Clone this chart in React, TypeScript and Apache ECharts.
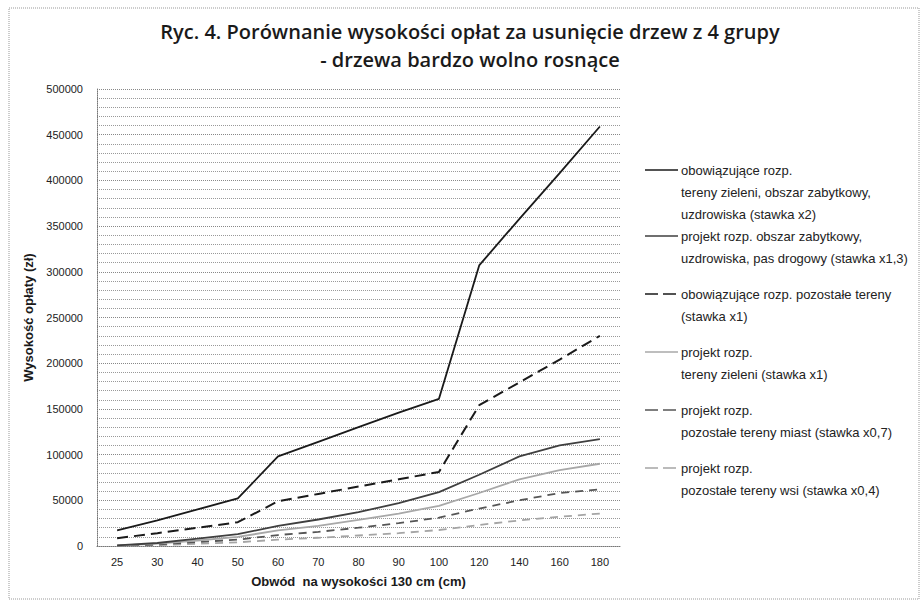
import React, { useEffect, useRef } from "react";
import * as echarts from "echarts";

const categories = ["25", "30", "40", "50", "60", "70", "80", "90", "100", "120", "140", "160", "180"];

const seriesNames = [
  "obowiązujące rozp.\ntereny zieleni, obszar zabytkowy,\nuzdrowiska (stawka x2)",
  "projekt rozp. obszar zabytkowy,\nuzdrowiska, pas drogowy (stawka x1,3)",
  "obowiązujące rozp. pozostałe tereny\n(stawka x1)",
  "projekt rozp.\ntereny zieleni (stawka x1)",
  "projekt rozp.\npozostałe tereny miast (stawka x0,7)",
  "projekt rozp.\npozostałe tereny wsi (stawka x0,4)",
];

const obowX2 = [17000, 28000, 40000, 52000, 98000, 114000, 130000, 146000, 161000, 307000, 358000, 408000, 459000];
const projX13 = [600, 3300, 8000, 13000, 22000, 29000, 37000, 47000, 59000, 78000, 98000, 110000, 117000];
const obowX1 = [8500, 14000, 20000, 26000, 49000, 57000, 65000, 73000, 81000, 154000, 179000, 204000, 230000];
const projX1 = [400, 2500, 6000, 10000, 17000, 22000, 28500, 35500, 44000, 58000, 73000, 83000, 90000];
const projX07 = [300, 1800, 4300, 7000, 12000, 15500, 20000, 25000, 31000, 41000, 50000, 58000, 62000];
const projX04 = [150, 1000, 2500, 4000, 7000, 9000, 11500, 14000, 17500, 23000, 28000, 32000, 35500];

const seriesData = [obowX2, projX13, obowX1, projX1, projX07, projX04];

const yTicks = { min: 0, max: 500000, interval: 50000 };

const styles = [
  { color: "#1a1a1a", type: "solid", width: 1.8, legendDash: null },
  { color: "#3f3f3f", type: "solid", width: 1.8, legendDash: null },
  { color: "#1a1a1a", type: [11, 6], width: 2, legendDash: [13, 5] },
  { color: "#a8a8a8", type: "solid", width: 1.8, legendDash: null },
  { color: "#555555", type: [8, 6], width: 1.8, legendDash: [13, 5] },
  { color: "#a5a5a5", type: [8, 6], width: 1.8, legendDash: [13, 5] },
];

const legendY = [170, 236, 294, 352, 410, 468];

export default function App() {
  const ref = useRef<HTMLDivElement>(null);
  useEffect(() => {
    if (!ref.current) return;
    const chart = echarts.init(ref.current, null, { renderer: "svg" });
    const font = "Liberation Sans, Arial, sans-serif";
    const legendGraphics: any[] = [];
    seriesNames.forEach((name, i) => {
      const s = styles[i];
      legendGraphics.push({
        type: "line",
        shape: { x1: 645, y1: legendY[i], x2: 678, y2: legendY[i] },
        style: { stroke: s.color, lineWidth: 1.5, lineDash: s.legendDash || undefined },
      });
      legendGraphics.push({
        type: "text",
        x: 681,
        y: legendY[i] - 11,
        style: {
          text: name,
          font: `13px ${font}`,
          fill: "#222",
          lineHeight: 22,
          verticalAlign: "top",
        },
      });
    });
    chart.setOption({
      animation: false,
      backgroundColor: "#fff",
      title: [
        {
          text: "Ryc. 4. Porównanie wysokości opłat za usunięcie drzew z 4 grupy",
          left: 465,
          top: 16,
          textAlign: "center",
          textStyle: { fontFamily: "Open Sans", fontWeight: 600, fontSize: 20, color: "#1a1a1a" },
        },
        {
          text: "- drzewa bardzo wolno rosnące",
          left: 465,
          top: 44,
          textAlign: "center",
          textStyle: { fontFamily: "Open Sans", fontWeight: 600, fontSize: 20, color: "#1a1a1a" },
        },
      ],
      grid: { left: 97, right: 300, top: 89, bottom: 58 },
      xAxis: {
        type: "category",
        data: categories,
        boundaryGap: true,
        name: "Obwód  na wysokości 130 cm (cm)",
        nameLocation: "middle",
        nameGap: 29,
        nameTextStyle: { fontFamily: font, fontWeight: "bold", fontSize: 13, color: "#1a1a1a" },
        axisLine: { lineStyle: { color: "#777", type: "dotted" } },
        axisTick: { show: false },
        axisLabel: { fontFamily: font, fontSize: 11, color: "#222", margin: 10 },
      },
      yAxis: {
        type: "value",
        min: yTicks.min,
        max: yTicks.max,
        interval: yTicks.interval,
        name: "Wysokość opłaty (zł)",
        nameLocation: "middle",
        nameRotate: 90,
        nameGap: 56,
        nameTextStyle: { fontFamily: font, fontWeight: "bold", fontSize: 13, color: "#1a1a1a" },
        axisLine: { show: true, lineStyle: { color: "#777", type: "dotted" } },
        axisTick: { show: false },
        axisLabel: {
          fontFamily: font,
          fontSize: 11,
          color: "#222",
          margin: 14,
          formatter: (v: number) => String(v),
        },
        splitLine: { show: true, lineStyle: { color: "#888", type: "dotted", width: 1 } },
        minorTick: { show: false, splitNumber: 5 },
        minorSplitLine: { show: true, lineStyle: { color: "#999", type: "dotted", width: 1 } },
      },
      series: seriesData.map((d, i) => ({
        type: "line",
        name: seriesNames[i],
        data: d,
        symbol: "none",
        lineStyle: { color: styles[i].color, width: styles[i].width, type: styles[i].type },
        z: 10 - i,
      })),
      graphic: [
        {
          type: "rect",
          shape: { x: 9, y: 8, width: 910, height: 591 },
          style: { fill: "none", stroke: "#999", lineWidth: 1, lineDash: [1, 1] },
          silent: true,
        },
        ...legendGraphics,
      ],
    });
    return () => chart.dispose();
  }, []);
  return (
    <div
      ref={ref}
      style={{ position: "absolute", left: 0, top: 0, width: 920, height: 604 }}
    />
  );
}
